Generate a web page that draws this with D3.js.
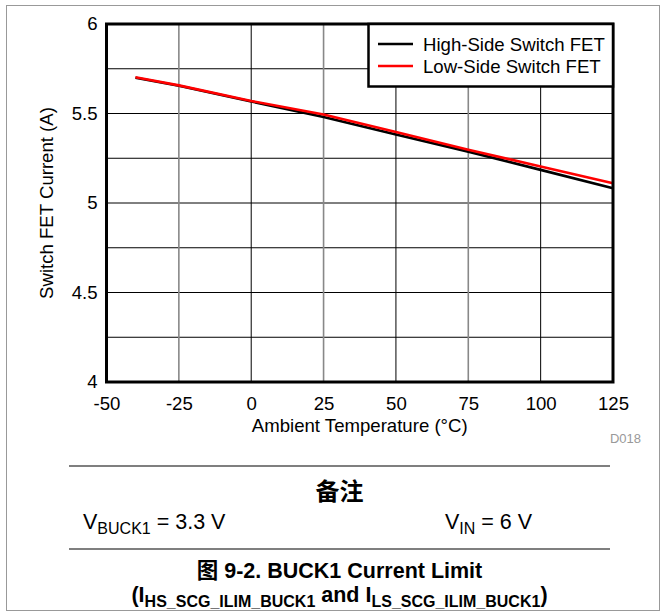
<!DOCTYPE html>
<html>
<head>
<meta charset="utf-8">
<script src="https://cdn.jsdelivr.net/npm/d3@7"></script>
<style>
body { margin: 0; background: #fff; }
svg { display: block; font-family: "Liberation Sans", Arial, sans-serif; }
</style>
</head>
<body>
<div id="chart"></div>
<script>
// values
var temps = [-40, -25, 0, 25, 50, 75, 100, 125];
var highSide = [5.700, 5.655, 5.567, 5.481, 5.383, 5.287, 5.185, 5.082];
var lowSide = [5.702, 5.657, 5.570, 5.494, 5.397, 5.298, 5.204, 5.110];
var seriesNames = ["High-Side Switch FET", "Low-Side Switch FET"];
var seriesColors = ["#000000", "#ff0000"];
var xTicks = [-50, -25, 0, 25, 50, 75, 100, 125];
var yTicks = [4, 4.5, 5, 5.5, 6];
var yGrid = [4.25, 4.5, 4.75, 5, 5.25, 5.5, 5.75];

var W = 665, H = 616;
var plotL = 106.5, plotR = 613, plotT = 24, plotB = 382;
var fs = "18.6px";

var svg = d3.select("#chart").append("svg")
    .attr("width", W)
    .attr("height", H);

// outer frame
svg.append("rect")
    .attr("x", 6.5).attr("y", 5.5)
    .attr("width", 653).attr("height", 605)
    .attr("fill", "none")
    .attr("stroke", "#999")
    .attr("stroke-width", 1);

var x = d3.scaleLinear().domain([-50, 125]).range([plotL, plotR]);
var y = d3.scaleLinear().domain([4, 6]).range([plotB, plotT]);

// grid
svg.append("g").selectAll("line")
    .data(yGrid)
    .enter().append("line")
    .attr("x1", plotL).attr("x2", plotR)
    .attr("y1", function(d) { return y(d); })
    .attr("y2", function(d) { return y(d); })
    .attr("stroke", "#000")
    .attr("stroke-width", 1);

svg.append("g").selectAll("line")
    .data(xTicks.slice(1, -1))
    .enter().append("line")
    .attr("x1", function(d) { return x(d); })
    .attr("x2", function(d) { return x(d); })
    .attr("y1", plotT).attr("y2", plotB)
    .attr("stroke", function(d) { return d % 50 === 0 ? "#000" : "#888"; })
    .attr("stroke-width", function(d) { return d % 50 === 0 ? 1 : 1.6; });

// axes (labels only, the frame is drawn separately)
var plain = function(d) { return String(d); };
var xAxis = svg.append("g")
    .attr("transform", "translate(0," + plotB + ")")
    .call(d3.axisBottom(x).tickValues(xTicks).tickSize(0).tickPadding(15).tickFormat(plain));
var yAxis = svg.append("g")
    .attr("transform", "translate(" + plotL + ",0)")
    .call(d3.axisLeft(y).tickValues(yTicks).tickSize(0).tickPadding(9).tickFormat(plain));
[xAxis, yAxis].forEach(function(a) {
    a.select(".domain").remove();
    a.selectAll("text")
        .attr("fill", "#000")
        .style("font-size", fs)
        .style("font-family", "'Liberation Sans', Arial, sans-serif");
});

// series
var line = d3.line()
    .x(function(d) { return x(d[0]); })
    .y(function(d) { return y(d[1]); });

[highSide, lowSide].forEach(function(vals, i) {
    svg.append("path")
        .datum(d3.zip(temps, vals))
        .attr("d", line)
        .attr("fill", "none")
        .attr("stroke", seriesColors[i])
        .attr("stroke-width", 2.6);
});

// plot frame
svg.append("rect")
    .attr("x", plotL).attr("y", plotT)
    .attr("width", plotR - plotL).attr("height", plotB - plotT)
    .attr("fill", "none")
    .attr("stroke", "#000")
    .attr("stroke-width", 3);

// legend
var lg = svg.append("g");
lg.append("rect")
    .attr("x", 368.5).attr("y", plotT)
    .attr("width", plotR - 368.5).attr("height", 62.5)
    .attr("fill", "#fff")
    .attr("stroke", "#000")
    .attr("stroke-width", 2.5);
seriesNames.forEach(function(name, i) {
    var ly = 44 + i * 22;
    lg.append("line")
        .attr("x1", 378).attr("x2", 413)
        .attr("y1", ly).attr("y2", ly)
        .attr("stroke", seriesColors[i])
        .attr("stroke-width", 2.6);
    lg.append("text")
        .attr("x", 423).attr("y", ly + 6.5)
        .style("font-size", fs)
        .text(name);
});

// axis titles
svg.append("text")
    .attr("x", (plotL + plotR) / 2).attr("y", 432)
    .attr("text-anchor", "middle")
    .style("font-size", fs)
    .text("Ambient Temperature (°C)");

svg.append("text")
    .attr("transform", "translate(53," + (plotT + plotB) / 2 + ") rotate(-90)")
    .attr("text-anchor", "middle")
    .style("font-size", fs)
    .text("Switch FET Current (A)");

svg.append("text")
    .attr("x", 641).attr("y", 443)
    .attr("text-anchor", "end")
    .attr("fill", "#999")
    .style("font-size", "13px")
    .text("D018");

// notes block
var cx = 339.5;
[466, 549].forEach(function(ly) {
    svg.append("line")
        .attr("x1", 69).attr("x2", 610)
        .attr("y1", ly).attr("y2", ly)
        .attr("stroke", "#555")
        .attr("stroke-width", 1.5);
});

svg.append("text")
    .attr("x", cx).attr("y", 500)
    .attr("text-anchor", "middle")
    .style("font-family", "'Noto Sans CJK SC', sans-serif")
    .style("font-weight", "bold")
    .style("font-size", "24px")
    .text("备注");

function subText(xp, yp, parts, anchor, bold) {
    var t = svg.append("text")
        .attr("x", xp).attr("y", yp)
        .attr("text-anchor", anchor)
        .style("font-weight", bold ? "bold" : "normal");
    var shift = 0;
    parts.forEach(function(p) {
        var dy = (p.sub ? 4.5 : 0) - shift;
        shift = p.sub ? 4.5 : 0;
        t.append("tspan")
            .attr("dy", dy)
            .style("font-size", p.sub ? "16px" : "21.5px")
            .style("font-family", p.cjk ? "'Noto Sans CJK SC', sans-serif" : null)
            .text(p.s);
    });
    return t;
}

subText(83, 529, [{s: "V"}, {s: "BUCK1", sub: true}, {s: " = 3.3 V"}], "start", false);
subText(532, 529, [{s: "V"}, {s: "IN", sub: true}, {s: " = 6 V"}], "end", false);

subText(cx, 578, [{s: "图", cjk: true}, {s: " 9-2. BUCK1 Current Limit"}], "middle", true);
subText(cx, 602, [{s: "(I"}, {s: "HS_SCG_ILIM_BUCK1", sub: true}, {s: " and I"},
    {s: "LS_SCG_ILIM_BUCK1", sub: true}, {s: ")"}], "middle", true);
</script>
</body>
</html>
